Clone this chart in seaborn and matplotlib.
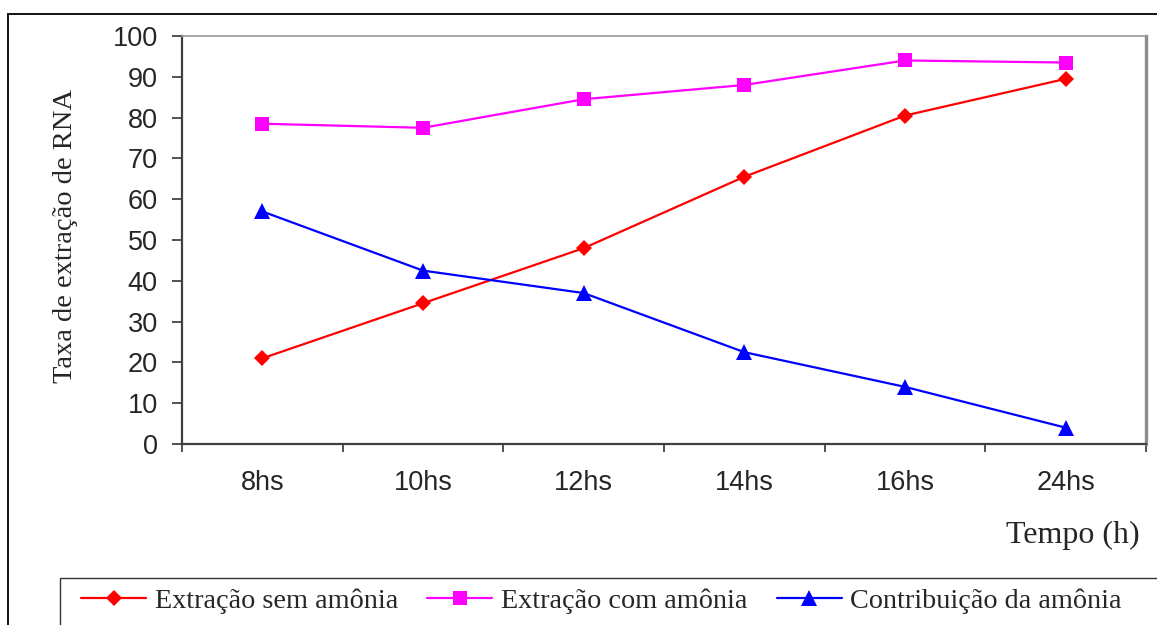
import numpy as np
import pandas as pd
import matplotlib
matplotlib.use("Agg")
import matplotlib.pyplot as plt
from matplotlib.patches import Rectangle
import seaborn as sns

# Sampling times
tempos = ["8hs", "10hs", "12hs", "14hs", "16hs", "24hs"]

# RNA extraction rates per series
sem_amonia = [21.0, 34.5, 48.0, 65.5, 80.5, 89.5]
com_amonia = [78.5, 77.5, 84.5, 88.0, 94.0, 93.5]
contribuicao = [57.0, 42.5, 37.0, 22.5, 14.0, 4.0]

serie_nomes = ["Extração sem amônia", "Extração com amônia", "Contribuição da amônia"]
y_ticks = [0, 10, 20, 30, 40, 50, 60, 70, 80, 90, 100]

sns.set_style("white")
plt.rcParams["font.family"] = ["Liberation Sans", "DejaVu Sans"]

fig = plt.figure(figsize=(11.57, 6.25), dpi=100)
ax = fig.add_axes([182 / 1157, 1 - 444 / 625, (1146 - 182) / 1157, (444 - 36) / 625])

estilos = [
    dict(color="#FF0000", marker="D", markersize=8.5),
    dict(color="#FF00FF", marker="s", markersize=10),
    dict(color="#0000FF", marker="^", markersize=12),
]
for nome, valores, est in zip(serie_nomes, [sem_amonia, com_amonia, contribuicao], estilos):
    df = pd.DataFrame({"Tempo": tempos, "Taxa": valores})
    sns.lineplot(data=df, x="Tempo", y="Taxa", ax=ax, label=nome, linewidth=1.6,
                 markeredgewidth=0, sort=False, **est)

ax.set_xlim(-0.5, len(tempos) - 0.5)
ax.set_ylim(0, 100)
ax.set_yticks(y_ticks)
ax.set_xticks(range(len(tempos)))
ax.set_xticklabels(tempos)
ax.set_xticks(np.arange(-0.5, len(tempos), 1.0), minor=True)
ax.set_xlabel("")
ax.set_ylabel("")

ax.tick_params(axis="y", which="major", direction="out", length=7, width=1.2,
               color="#333333", labelsize=19.5, pad=10.5, left=True)
ax.tick_params(axis="x", which="major", length=0, labelsize=19.5, pad=19)
ax.tick_params(axis="x", which="minor", direction="out", length=6, width=1.2,
               color="#333333", bottom=True)

for lado in ["left", "bottom"]:
    ax.spines[lado].set_color("#404040")
    ax.spines[lado].set_linewidth(1.6)
ax.spines["top"].set_color("#9a9a9a")
ax.spines["top"].set_linewidth(1.2)
ax.spines["right"].set_color("#8c8c8c")
ax.spines["right"].set_linewidth(2.4)

serif = ["Liberation Serif", "DejaVu Serif"]
fig.text(66 / 1157, 1 - 236 / 625, "Taxa de extração de RNA", rotation=90,
         ha="center", va="center", fontsize=20.5, family=serif)
fig.text(1140 / 1157, 1 - 535 / 625, "Tempo (h)", ha="right", va="center",
         fontsize=23, family=serif)

handles, labels = ax.get_legend_handles_labels()
ax.get_legend().remove()
fig.legend(handles, labels, loc="center left", bbox_to_anchor=(70 / 1157, 1 - 601 / 625),
           ncol=3, frameon=False, prop={"family": serif, "size": 20.3},
           handlelength=2.3, handletextpad=0.3, columnspacing=1.05, borderaxespad=0)

# outer chart frame and legend box
fig.patches.append(Rectangle((8 / 1157, -0.2), 1.2, 0.2 + 1 - 14 / 625,
                             transform=fig.transFigure, fill=False,
                             edgecolor="black", linewidth=1.3, clip_on=False))
fig.patches.append(Rectangle((60 / 1157, -0.2), 1.2, 0.2 + 1 - 578 / 625,
                             transform=fig.transFigure, fill=False,
                             edgecolor="#333333", linewidth=1.0, clip_on=False))

fig.savefig("out.png", dpi=100)
